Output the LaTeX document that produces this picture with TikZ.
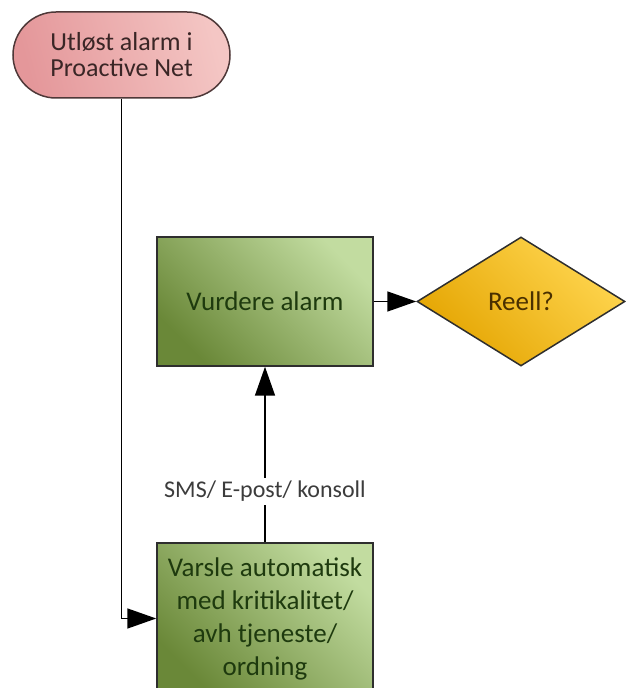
\documentclass[tikz,border=0pt]{standalone}
\usepackage{fontspec}
\setmainfont{Carlito}
\usetikzlibrary{shapes.geometric,arrows.meta}

\definecolor{pinkdark}{HTML}{E4979A}
\definecolor{pinklight}{HTML}{F4C6C4}
\definecolor{pinkline}{HTML}{4E3838}
\definecolor{pinktext}{HTML}{3A2626}
\definecolor{greendark}{HTML}{6A8838}
\definecolor{greenlight}{HTML}{C2DCA0}
\definecolor{greentext}{HTML}{1E3A0E}
\definecolor{golddark}{HTML}{E4A400}
\definecolor{goldlight}{HTML}{FFD650}
\definecolor{goldtext}{HTML}{4A3000}
\definecolor{boxline}{HTML}{2E2E2E}
\definecolor{labeltext}{HTML}{3C3C3C}

\begin{document}
\begin{tikzpicture}[x=1pt,y=1pt,
  terminal/.style={draw=pinkline, line width=1.5pt, rectangle, rounded corners=43pt,
    minimum width=217pt, minimum height=86pt, inner sep=0pt, align=center,
    text=pinktext, font=\fontsize{26}{26}\selectfont,
    top color=pinklight, bottom color=pinkdark, shading angle=-75},
  process/.style={draw=boxline, line width=1.5pt, rectangle,
    minimum width=216pt, inner sep=0pt, align=center,
    text=greentext, font=\fontsize{27}{33}\selectfont,
    top color=greenlight, bottom color=greendark, shading angle=-45},
  decision/.style={draw=boxline, line width=1.5pt, diamond, aspect=1,
    minimum width=208pt, minimum height=129pt, inner sep=0pt,
    text=goldtext, font=\fontsize{27}{33}\selectfont,
    top color=goldlight, bottom color=golddark, shading angle=-45},
  conn/.style={draw=black, line width=1.6pt,
    -{Triangle[length=29pt,width=20pt]}},
  edgelabel/.style={fill=white, inner sep=3pt, text=labeltext,
    font=\fontsize{24}{28}\selectfont}
]
\useasboundingbox (0,0) rectangle (626,688);
\clip (0,0) rectangle (626,688);

% start event
\node[terminal] (start) at (121.5,633) {Utløst alarm i\\Proactive Net};

% assessment and decision
\node[process, minimum height=129pt] (assess) at (265,386.5) {Vurdere alarm};
\node[decision] (real) at (521,386.5) {Reell?};

% automatic notification
\node[process, minimum height=151pt] (notify) at (265,69.5)
  {Varsle automatisk\\med kritikalitet/\\avh tjeneste/\\ordning};

% connectors
\draw[conn] (start.south) |- (notify.west);
\draw[conn] (notify.north) -- node[edgelabel, pos=0.29] (smslabel) {SMS/ E-post/ konsoll} (assess.south);
\draw[conn] (assess.east) -- (real.west);
\end{tikzpicture}
\end{document}
